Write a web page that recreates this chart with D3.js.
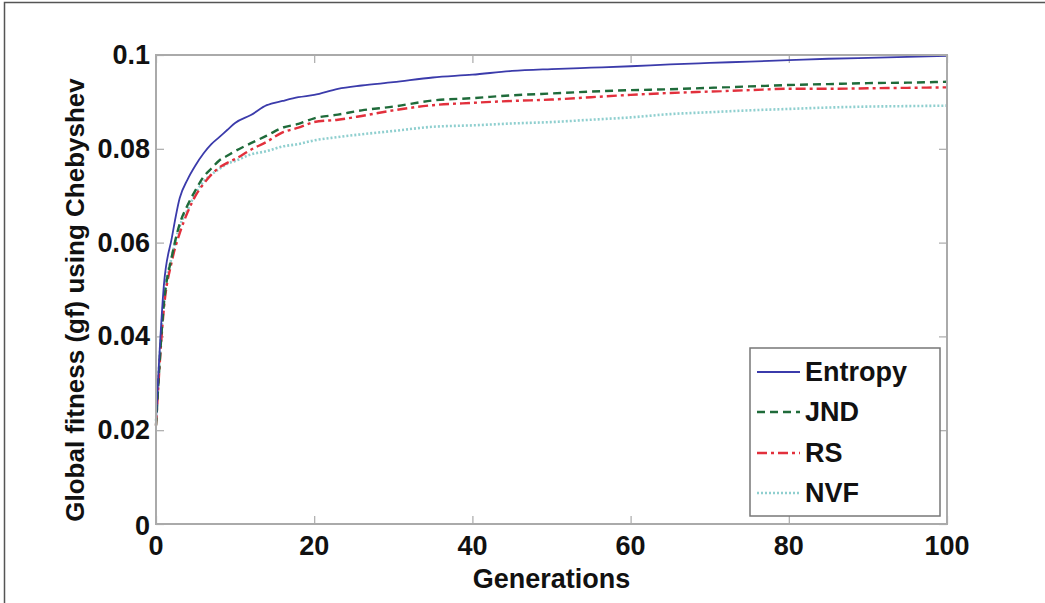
<!DOCTYPE html>
<html>
<head>
<meta charset="utf-8">
<script src="https://cdn.jsdelivr.net/npm/d3@7"></script>
<style>
  html, body { margin: 0; padding: 0; background: #fff; }
  svg { display: block; }
  text { font-family: "Liberation Sans", Arial, Helvetica, sans-serif; font-weight: bold; fill: #111; }
</style>
</head>
<body>
<svg id="chart" width="1045" height="603"></svg>
<script>
// ---- data ----
const generations = [0,1,2,3,4,5,6,7,8,9,10,12,14,16,18,20,23,26,30,35,40,45,50,55,60,65,70,75,80,85,90,95,100];
const entropy = [0.022,0.051,0.061,0.0695,0.0735,0.0765,0.079,0.081,0.0825,0.084,0.0855,0.0872,0.0893,0.0902,0.091,0.0915,0.0928,0.0935,0.0942,0.0952,0.0958,0.0966,0.097,0.0973,0.0976,0.098,0.0983,0.0986,0.0989,0.0992,0.0994,0.0996,0.0998];
const jnd = [0.021,0.047,0.057,0.064,0.068,0.0712,0.074,0.0758,0.0775,0.0785,0.0795,0.0812,0.0828,0.0845,0.0853,0.0865,0.0873,0.0882,0.089,0.0903,0.0908,0.0914,0.0918,0.0922,0.0925,0.0927,0.093,0.0933,0.0936,0.0938,0.094,0.0941,0.0943];
const rs = [0.021,0.046,0.056,0.062,0.0665,0.07,0.0725,0.0745,0.076,0.077,0.0778,0.0798,0.0815,0.0835,0.0845,0.0857,0.0862,0.087,0.0882,0.0893,0.0898,0.0902,0.0905,0.091,0.0915,0.0919,0.0922,0.0925,0.0928,0.0928,0.0929,0.093,0.0931];
const nvf = [0.022,0.048,0.057,0.0635,0.067,0.0705,0.073,0.0745,0.0757,0.0768,0.0774,0.0788,0.0795,0.0805,0.081,0.0818,0.0825,0.0831,0.0838,0.0847,0.085,0.0854,0.0857,0.0862,0.0867,0.0874,0.0878,0.0882,0.0885,0.0888,0.089,0.0891,0.0892];
const seriesNames = ["Entropy","JND","RS","NVF"];
const xTicks = [0,20,40,60,80,100];
const xTickLabels = ["0","20","40","60","80","100"];
const yTicks = [0,0.02,0.04,0.06,0.08,0.1];
const yTickLabels = ["0","0.02","0.04","0.06","0.08","0.1"];
const xLabel = "Generations";
const yLabel = "Global fitness (gf) using Chebyshev";

// ---- layout ----
const svg = d3.select("#chart");
const L = 156, R = 947, T = 55, B = 524;
const x = d3.scaleLinear().domain([0,100]).range([L,R]);
const y = d3.scaleLinear().domain([0,0.1]).range([B,T]);

// outer frame
svg.append("path").attr("d","M4.5,603 V2.5 H1045").attr("fill","none").attr("stroke","#555").attr("stroke-width",1.5);

const styles = [
  {color:"#3b3bab", width:1.8, dash:null},
  {color:"#1f6b3a", width:2.4, dash:"8,5"},
  {color:"#e2303c", width:2.4, dash:"10,4,3,4"},
  {color:"#8fcfcf", width:2.6, dash:"2,2"}
];
const allSeries = [entropy, jnd, rs, nvf];

// axes box
const axisColor = "#aaaaaa";
function styleAxis(g){
  g.select(".domain").remove();
  g.selectAll(".tick line").attr("stroke",axisColor).attr("stroke-width",1.2);
  g.selectAll(".tick text").remove();
}
svg.append("g").attr("transform",`translate(0,${B})`).call(d3.axisBottom(x).tickValues(xTicks).tickSize(-8)).call(styleAxis);
svg.append("g").attr("transform",`translate(0,${T})`).call(d3.axisTop(x).tickValues(xTicks).tickSize(-8)).call(styleAxis);
svg.append("g").attr("transform",`translate(${L},0)`).call(d3.axisLeft(y).tickValues(yTicks).tickSize(-8)).call(styleAxis);
svg.append("g").attr("transform",`translate(${R},0)`).call(d3.axisRight(y).tickValues(yTicks).tickSize(-8)).call(styleAxis);

// lines
const line = d3.line().x((d,i)=>x(generations[i])).y(d=>y(d)).curve(d3.curveMonotoneX);
const order = [3,2,1,0];
order.forEach(k=>{
  const p = svg.append("path").datum(allSeries[k]).attr("d",line)
    .attr("fill","none").attr("stroke",styles[k].color).attr("stroke-width",styles[k].width)
    .attr("stroke-linejoin","round");
  if(styles[k].dash) p.attr("stroke-dasharray",styles[k].dash);
});

svg.append("rect").attr("x",L).attr("y",T).attr("width",R-L).attr("height",B-T)
  .attr("fill","none").attr("stroke",axisColor).attr("stroke-width",2);

// tick labels
const fs = 27;
svg.append("g").selectAll("text").data(xTicks).join("text")
  .attr("x",d=>x(d)).attr("y",546).attr("text-anchor","middle").attr("dominant-baseline","central")
  .attr("font-size",fs).text((d,i)=>xTickLabels[i]);
svg.append("g").selectAll("text").data(yTicks).join("text")
  .attr("x",150).attr("y",d=>y(d)+(d===0?2:0)).attr("text-anchor","end").attr("dominant-baseline","central")
  .attr("font-size",fs).text((d,i)=>yTickLabels[i]);

// axis labels
svg.append("text").attr("x",(L+R)/2).attr("y",579).attr("text-anchor","middle").attr("dominant-baseline","central")
  .attr("font-size",fs).text(xLabel);
svg.append("text").attr("transform",`translate(75,300) rotate(-90)`).attr("text-anchor","middle")
  .attr("dominant-baseline","central").attr("font-size",26).text(yLabel);

// legend
const lg = svg.append("g");
lg.append("rect").attr("x",750).attr("y",348).attr("width",190).attr("height",168)
  .attr("fill","#fff").attr("stroke","#777").attr("stroke-width",1.5);
const legY = [372,412,453,493];
seriesNames.forEach((n,k)=>{
  const l = lg.append("line").attr("x1",757).attr("x2",800).attr("y1",legY[k]).attr("y2",legY[k])
    .attr("stroke",styles[k].color).attr("stroke-width",styles[k].width);
  if(styles[k].dash) l.attr("stroke-dasharray",styles[k].dash);
  lg.append("text").attr("x",805).attr("y",legY[k]).attr("dominant-baseline","central")
    .attr("font-size",fs).text(n);
});
</script>
</body>
</html>
